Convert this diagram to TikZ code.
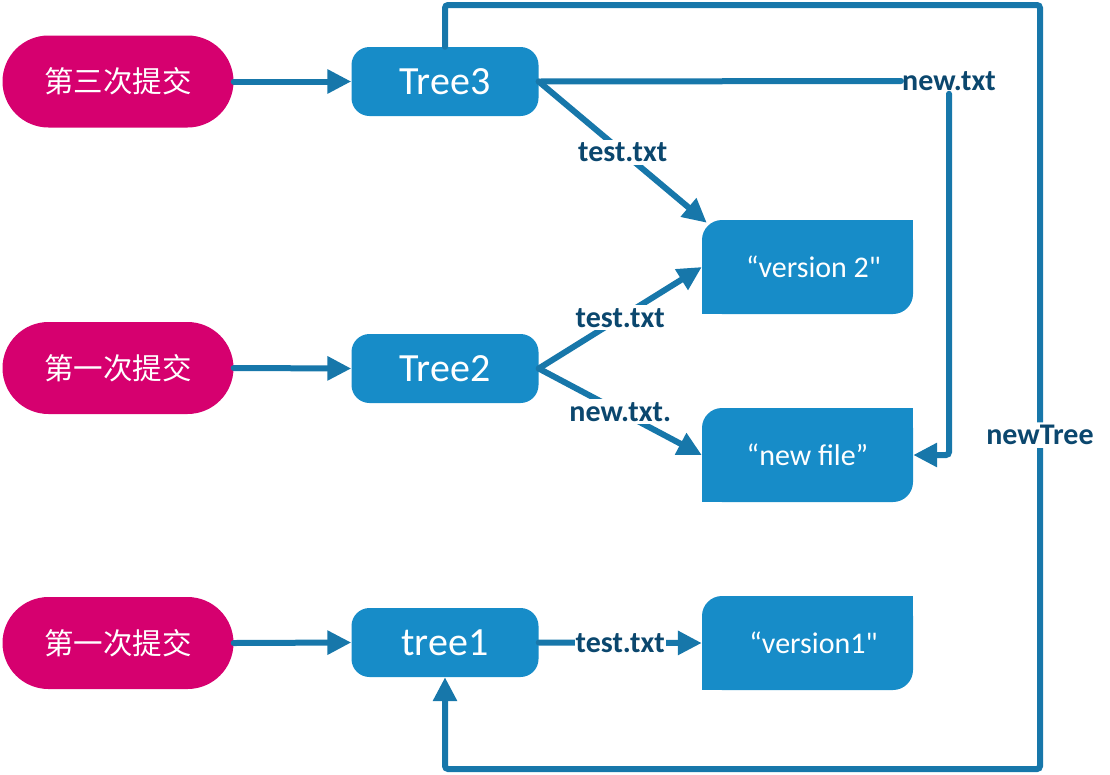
\documentclass[tikz,border=0pt]{standalone}
\usepackage{fontspec}
\setmainfont{Carlito}[Ligatures=TeXOff]
\newfontfamily\cjk{Noto Sans CJK SC}
\usetikzlibrary{arrows.meta}
\definecolor{linecol}{HTML}{1777AA}
\definecolor{boxblue}{HTML}{178CC8}
\definecolor{pinkc}{HTML}{D6006F}
\definecolor{lblcol}{HTML}{0B476E}
\begin{document}
\begin{tikzpicture}[x=1pt,y=-1pt,
  pill/.style={rectangle, rounded corners=46pt, fill=pinkc, minimum width=231pt, minimum height=92pt, text=white, font=\cjk\fontsize{29.5pt}{33pt}\selectfont},
  treebox/.style={rectangle, rounded corners=18pt, fill=boxblue, minimum width=187pt, minimum height=69pt, text=white, font=\fontsize{40pt}{44pt}\selectfont},
  verbox/.style={rectangle, fill=white, minimum width=211pt, minimum height=94pt, text=white, font=\fontsize{30pt}{34pt}\selectfont,
    path picture={
      \fill[boxblue, rounded corners=20pt] (path picture bounding box.south west) rectangle (path picture bounding box.north east);
      \fill[boxblue] (path picture bounding box.north east) rectangle ++(-30pt,-30pt);
      \fill[boxblue] (path picture bounding box.south west) rectangle ++(30pt,30pt);}},
  conn/.style={draw=linecol, line width=6pt, line cap=round},
  arr/.style={conn, -{Triangle[length=24pt,width=23pt]}},
  lbl/.style={fill=white, text=lblcol, inner xsep=1pt, inner ysep=3pt, font=\bfseries\fontsize{30pt}{34pt}\selectfont}
]
\useasboundingbox (0,0) rectangle (1110,774);

% left pills
\node[pill] (p3) at (118,81.5) {第三次提交};
\node[pill] (p2) at (118,368) {第一次提交};
\node[pill] (p1) at (118,643) {第一次提交};

% trees
\node[treebox] (tree3) at (445,81.5) {Tree3};
\node[treebox] (tree2) at (445,368.5) {Tree2};
\node[treebox] (tree1) at (445,642.5) {tree1};

% blobs
\node[verbox] (v2) at (807.5,267) {\hspace{12pt}“version 2"};
\node[verbox] (nf) at (807.5,455) {“new file”};
\node[verbox] (v1) at (807.5,643) {\hspace{12pt}“version1"};

% commits to trees
\draw[arr] (p3.east) -- (tree3.west);
\draw[arr] (p2.east) -- (tree2.west);
\draw[arr] (p1.east) -- (tree1.west);

% tree entries
\draw[arr] (tree3.east) -- node[lbl]{test.txt} ([shift={(5pt,-3pt)}]v2.north west);
\draw[arr] (tree2.east) -- node[lbl]{test.txt} (v2.west);
\draw[arr] (tree2.east) -- node[lbl]{new.txt.} (nf.west);
\draw[arr] (tree1.east) -- node[lbl]{test.txt} (v1.west);

% new.txt from Tree3
\node[lbl] (lblnew) at (949,81) {new.txt};
\draw[conn] (tree3.east) -- (lblnew.west);
\draw[arr, rounded corners=3pt] (lblnew.south) |- (nf.east);

% newTree loop
\coordinate (tr) at (1040,5);
\coordinate (br) at (1040,769);
\draw[arr, rounded corners=3pt] (tree3.north) |- (tr) -- node[lbl, pos=0.563]{newTree} (br) -| (tree1.south);
\end{tikzpicture}
\end{document}
